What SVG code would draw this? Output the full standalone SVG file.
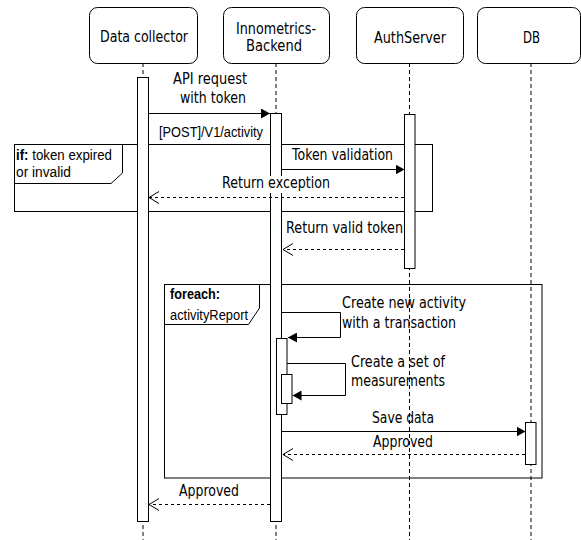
<svg xmlns="http://www.w3.org/2000/svg" width="581" height="540" viewBox="0 0 581 540">
  <defs>
    <style>
      .head { fill: #fff; stroke: #000; stroke-width: 1; }
      .life { stroke: #000; stroke-width: 1; stroke-dasharray: 4 3; fill: none; }
      .act { fill: #fff; stroke: #000; stroke-width: 1; }
      .frame { fill: none; stroke: #000; stroke-width: 1; }
      .flabel { fill: #fff; stroke: #000; stroke-width: 1; }
      .msg { fill: none; stroke: #000; stroke-width: 1; marker-end: url(#solid); }
      .ret { fill: none; stroke: #000; stroke-width: 1; stroke-dasharray: 3 3; marker-end: url(#open); }
      text { fill: #000; }
      .ht { font-family: "DejaVu Sans", "Noto Sans", sans-serif; font-size: 15px; }
      .lt { font-family: "DejaVu Sans", "Noto Sans", sans-serif; font-size: 15px; }
      .ft { font-family: "Liberation Sans", Arial, sans-serif; font-size: 14px; }
      .b { font-weight: bold; }
    </style>
    <marker id="solid" viewBox="0 0 9 10" refX="9" refY="5" markerWidth="9" markerHeight="10" orient="auto" markerUnits="userSpaceOnUse">
      <path d="M0,0 L9,5 L0,10 z" fill="#000"/>
    </marker>
    <marker id="open" viewBox="-1 -1 12 14" refX="10" refY="6" markerWidth="12" markerHeight="14" orient="auto" markerUnits="userSpaceOnUse">
      <path d="M0,0 L10,6 L0,12" fill="none" stroke="#000" stroke-width="1"/>
    </marker>
  </defs>

  <rect width="581" height="540" fill="#fff"/>

  <!-- lifelines -->
  <g id="lifelines">
    <line class="life" x1="143" y1="63" x2="143" y2="540"/>
    <line class="life" x1="276" y1="63" x2="276" y2="540"/>
    <line class="life" x1="409.5" y1="63" x2="409.5" y2="540"/>
    <line class="life" x1="531" y1="63" x2="531" y2="540"/>
  </g>

  <!-- combined fragments -->
  <g id="frame-if">
    <rect class="frame" x="14.5" y="144.5" width="418" height="67"/>
    <path class="flabel" d="M14.5,144.5 H122.5 V173 L111,183.5 H14.5 Z"/>
    <text class="ft" x="16" y="160" textLength="96" lengthAdjust="spacingAndGlyphs"><tspan class="b">if:</tspan> token expired</text>
    <text class="ft" x="16" y="177" textLength="55" lengthAdjust="spacingAndGlyphs">or invalid</text>
  </g>
  <g id="frame-foreach">
    <rect class="frame" x="164.5" y="284.5" width="377.5" height="193.5"/>
    <path class="flabel" d="M164.5,284.5 H259.5 V308 L248.5,324.5 H164.5 Z"/>
    <text class="ft b" x="170" y="299" textLength="50" lengthAdjust="spacingAndGlyphs">foreach:</text>
    <text class="ft" x="170" y="320" textLength="78" lengthAdjust="spacingAndGlyphs">activityReport</text>
  </g>

  <!-- participants -->
  <g id="data-collector">
    <rect class="head" x="89.5" y="7.5" width="108" height="56" rx="8"/>
    <text class="ht" x="100" y="42" textLength="88" lengthAdjust="spacingAndGlyphs">Data collector</text>
    <rect class="act" x="137.5" y="77.5" width="11" height="444"/>
  </g>
  <g id="backend">
    <rect class="head" x="223.5" y="7.5" width="106" height="56" rx="8"/>
    <text class="ht" x="236" y="34" textLength="80" lengthAdjust="spacingAndGlyphs">Innometrics-</text>
    <text class="ht" x="246" y="51" textLength="56" lengthAdjust="spacingAndGlyphs">Backend</text>
    <rect class="act" x="270.5" y="113.5" width="11" height="408"/>
    <rect class="act" x="276.5" y="338.5" width="10.5" height="76"/>
    <rect class="act" x="281.5" y="374.5" width="10.5" height="29"/>
  </g>
  <g id="auth-server">
    <rect class="head" x="356.5" y="7.5" width="107" height="56" rx="8"/>
    <text class="ht" x="374" y="43" textLength="72" lengthAdjust="spacingAndGlyphs">AuthServer</text>
    <rect class="act" x="404.5" y="114.5" width="10.5" height="154"/>
  </g>
  <g id="db">
    <rect class="head" x="477.5" y="7.5" width="103" height="56" rx="8"/>
    <text class="ht" x="523" y="43" textLength="17" lengthAdjust="spacingAndGlyphs">DB</text>
    <rect class="act" x="525.5" y="422.5" width="10.5" height="42"/>
  </g>

  <!-- messages -->
  <g id="connectors">
    <line class="msg" x1="149" y1="113.5" x2="270" y2="113.5"/>
    <line class="msg" x1="282" y1="169.5" x2="404.5" y2="169.5"/>
    <line class="ret" x1="404" y1="197.5" x2="149" y2="197.5"/>
    <line class="ret" x1="404" y1="249.5" x2="283" y2="249.5"/>
    <polyline class="msg" points="282,312.5 340.5,312.5 340.5,337.5 288,337.5"/>
    <polyline class="msg" points="287,363.5 345.5,363.5 345.5,395.5 292.5,395.5"/>
    <line class="msg" x1="282" y1="431.5" x2="525.5" y2="431.5"/>
    <line class="ret" x1="525" y1="454.5" x2="283" y2="454.5"/>
    <line class="ret" x1="270" y1="504.5" x2="149" y2="504.5"/>
  </g>

  <!-- message labels -->
  <g id="labels">
    <text class="lt" x="173" y="84" textLength="74" lengthAdjust="spacingAndGlyphs">API request</text>
    <text class="lt" x="180" y="103" textLength="66" lengthAdjust="spacingAndGlyphs">with token</text>
    <text class="ft" x="159" y="137" textLength="104" lengthAdjust="spacingAndGlyphs">[POST]/V1/activity</text>
    <text class="lt" x="292" y="160" textLength="101" lengthAdjust="spacingAndGlyphs">Token validation</text>
    <rect x="220" y="176" width="112" height="17" fill="#fff"/>
    <text class="lt" x="222" y="188" textLength="108" lengthAdjust="spacingAndGlyphs">Return exception</text>
    <text class="lt" x="286" y="233" textLength="117" lengthAdjust="spacingAndGlyphs">Return valid token</text>
    <text class="lt" x="342" y="308" textLength="124" lengthAdjust="spacingAndGlyphs">Create new activity</text>
    <text class="lt" x="342" y="328" textLength="114" lengthAdjust="spacingAndGlyphs">with a transaction</text>
    <text class="lt" x="351" y="367" textLength="94" lengthAdjust="spacingAndGlyphs">Create a set of</text>
    <text class="lt" x="351" y="386" textLength="94" lengthAdjust="spacingAndGlyphs">measurements</text>
    <text class="lt" x="372" y="423" textLength="62" lengthAdjust="spacingAndGlyphs">Save data</text>
    <text class="lt" x="373" y="447" textLength="60" lengthAdjust="spacingAndGlyphs">Approved</text>
    <text class="lt" x="179" y="496" textLength="60" lengthAdjust="spacingAndGlyphs">Approved</text>
  </g>
</svg>
